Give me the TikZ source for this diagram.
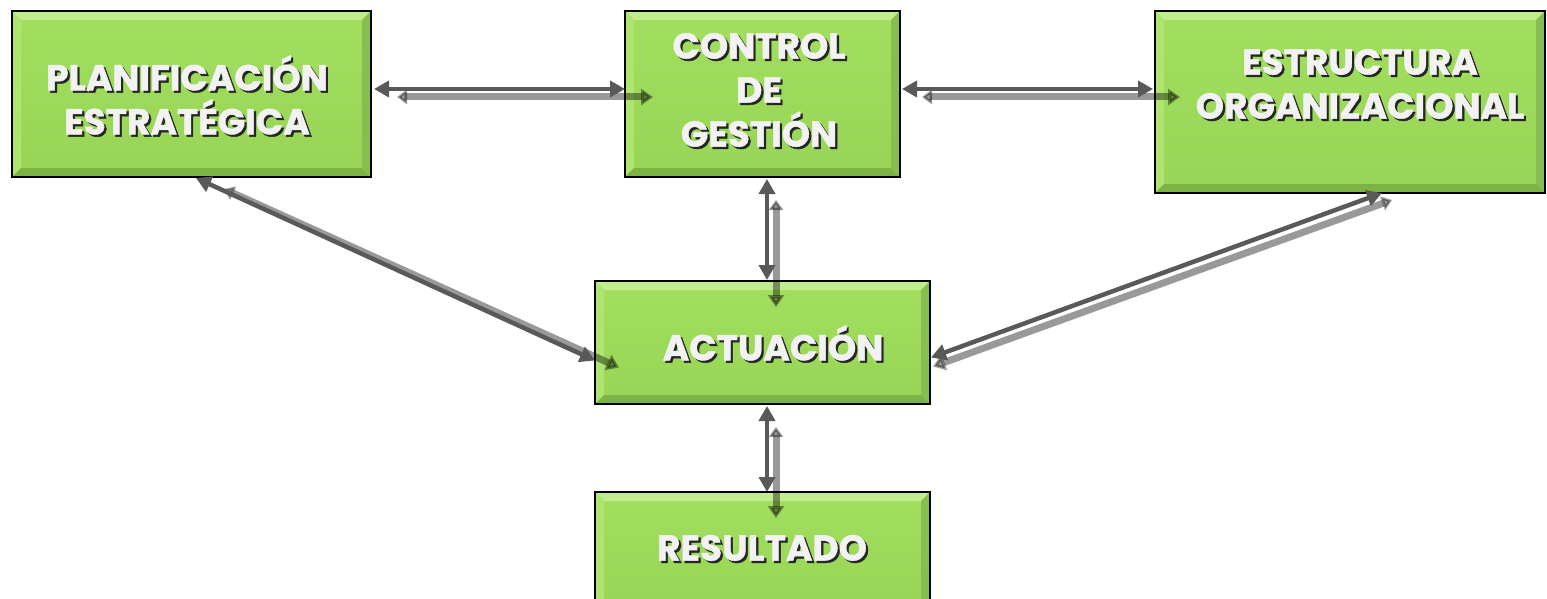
\documentclass[tikz,border=0pt]{standalone}
\usepackage{fontspec}
\setmainfont{Poppins}[BoldFeatures={FakeBold=1.2}]
\usetikzlibrary{arrows.meta,calc}
\definecolor{boxgreen}{HTML}{A2DF5F}
\definecolor{boxgreenb}{HTML}{98D455}
\definecolor{bevlight}{HTML}{C0EE8C}
\definecolor{bevleft}{HTML}{AEE571}
\definecolor{bevdark}{HTML}{7DB245}
\definecolor{bevright}{HTML}{88BE4F}
\definecolor{arrowgray}{HTML}{595959}
\definecolor{txtfg}{HTML}{F2F2F2}
\definecolor{txtsh}{HTML}{262626}
\newcommand\sht[1]{\rlap{\kern2.2pt\raisebox{-2.2pt}{\textcolor{txtsh}{#1}}}\textcolor{txtfg}{#1}}
\newcommand\bevelbox[1]{%
  \fill[bevlight] (#1.north west) -- (#1.north east) -- ($(#1.north east)+(-9,9)$) -- ($(#1.north west)+(9,9)$) -- cycle;
  \fill[bevleft] (#1.north west) -- ($(#1.north west)+(9,9)$) -- ($(#1.south west)+(9,-9)$) -- (#1.south west) -- cycle;
  \fill[bevdark] (#1.south west) -- (#1.south east) -- ($(#1.south east)+(-9,-9)$) -- ($(#1.south west)+(9,-9)$) -- cycle;
  \fill[bevright] (#1.north east) -- ($(#1.north east)+(-9,9)$) -- ($(#1.south east)+(-9,-9)$) -- (#1.south east) -- cycle;
  \draw[line width=2.5pt,black] (#1.north west) rectangle (#1.south east);}
\tikzset{
  box/.style={rectangle, outer sep=0pt, inner sep=0pt, draw=black, line width=2.5pt,
    top color=boxgreen, bottom color=boxgreenb},
  lbl/.style={align=center, font=\bfseries\fontsize{36}{44}\selectfont, inner sep=0pt},
  mainarrow/.style={draw=arrowgray, line width=4.5pt, {Triangle[length=15pt,width=16pt]}-{Triangle[length=15pt,width=16pt]}},
  shadowarrow/.style={draw=black, opacity=0.4, line width=7pt, {Triangle[length=10pt,width=14pt]}-{Triangle[length=12pt,width=16pt]}}
}
\begin{document}
\begin{tikzpicture}[x=1pt,y=-1pt]
\useasboundingbox[fill=white] (0,0) rectangle (1547,599);
% boxes
\node[box, minimum width=359pt, minimum height=166pt] (plan) at (191.5,94) {};
\node[box, minimum width=275pt, minimum height=166pt] (ctrl) at (762.5,94) {};
\node[box, minimum width=390pt, minimum height=182pt] (estr) at (1350,102) {};
\node[box, minimum width=335pt, minimum height=123pt] (act) at (762.5,342.5) {};
\node[box, minimum width=335pt, minimum height=120pt] (res) at (762.5,552) {};
\bevelbox{plan}\bevelbox{ctrl}\bevelbox{estr}\bevelbox{act}\bevelbox{res}
% labels
\node[lbl] (planT) at (187,96) {\sht{PLANIFICACIÓN}\\\sht{ESTRATÉGICA}};
\node[lbl] (ctrlT) at (759,91) {\sht{CONTROL}\\\sht{DE}\\\sht{GESTIÓN}};
\node[lbl] (estrT) at (1360,85) {\sht{ESTRUCTURA}\\\sht{ORGANIZACIONAL}};
\node[lbl] (actT) at (773,344) {\sht{ACTUACIÓN}};
\node[lbl] (resT) at (762,549) {\sht{RESULTADO}};
% shadow arrows
\draw[shadowarrow] ($(plan.east)+(26,3)$) -- ($(ctrl.west)+(28,3)$);
\draw[shadowarrow] ($(ctrl.east)+(22,3)$) -- ($(estr.west)+(25,-5)$);
\draw[shadowarrow] ($(ctrl.south)+(13.5,23)$) -- ($(act.north)+(13.5,26)$);
\draw[shadowarrow] ($(act.south)+(13.5,23)$) -- ($(res.north)+(13.5,26)$);
\draw[shadowarrow] ($(plan.south west)+(212,12)$) -- ($(act.west)+(24,25)$);
\draw[shadowarrow] ($(estr.south west)+(237,7)$) -- ($(act.east)+(3,24)$);
% main arrows
\draw[mainarrow] ($(plan.east)+(3,-5)$) -- ($(ctrl.west)+(0,-5)$);
\draw[mainarrow] ($(ctrl.east)+(2,-5)$) -- ($(estr.west)+(-2,-13)$);
\draw[mainarrow] ($(ctrl.south)+(4.5,2)$) -- ($(act.north)+(4.5,-1)$);
\draw[mainarrow] ($(act.south)+(4.5,2)$) -- ($(res.north)+(4.5,0)$);
\draw[mainarrow] ($(plan.south west)+(184,1)$) -- ($(act.west)+(0,18)$);
\draw[mainarrow] ($(estr.south west)+(227,0)$) -- ($(act.east)+(1,15)$);
\end{tikzpicture}
\end{document}
